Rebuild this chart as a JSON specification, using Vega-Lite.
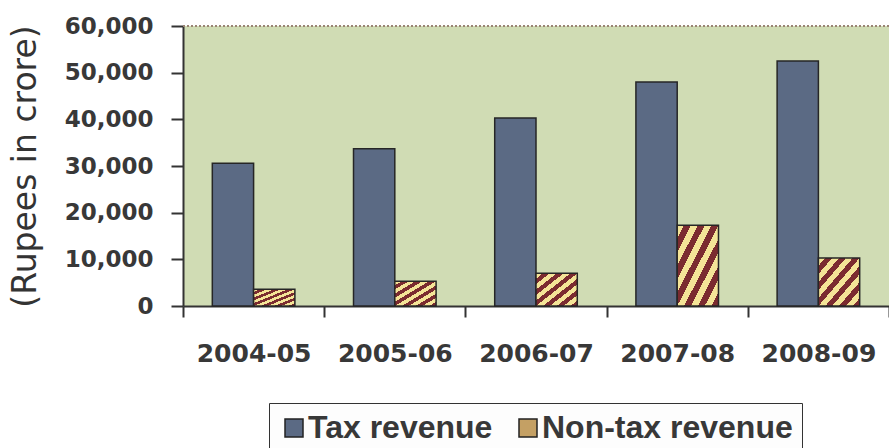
{
  "$schema": "https://vega.github.io/schema/vega-lite/v6.json",
  "width": 706,
  "height": 280,
  "autosize": {"type": "none"},
  "padding": {"left": 183, "top": 26, "right": 0, "bottom": 142},
  "background": "white",
  "config": {
    "view": {"fill": "#d0dcb4", "stroke": null},
    "axis": {"labelColor": "#383838", "domainColor": "#333333", "tickColor": "#333333", "domainWidth": 2, "tickWidth": 2, "grid": false}
  },
  "data": {
    "values": [
      {"year": "2004-05", "series": "Tax revenue", "value": 30600},
      {"year": "2004-05", "series": "Non-tax revenue", "value": 3600},
      {"year": "2005-06", "series": "Tax revenue", "value": 33700},
      {"year": "2005-06", "series": "Non-tax revenue", "value": 5300},
      {"year": "2006-07", "series": "Tax revenue", "value": 40300},
      {"year": "2006-07", "series": "Non-tax revenue", "value": 7000},
      {"year": "2007-08", "series": "Tax revenue", "value": 48000},
      {"year": "2007-08", "series": "Non-tax revenue", "value": 17300},
      {"year": "2008-09", "series": "Tax revenue", "value": 52500},
      {"year": "2008-09", "series": "Non-tax revenue", "value": 10300}
    ]
  },
  "layer": [
    {
      "mark": {"type": "bar", "stroke": "#262626", "strokeWidth": 1.5},
      "encoding": {
        "x": {
          "field": "year", "type": "nominal", "sort": null,
          "scale": {"paddingInner": 0, "paddingOuter": 0},
          "axis": {"title": null, "labelAngle": 0, "tickBand": "extent", "tickSize": 11, "labelPadding": 24, "labelFont": "DejaVu Sans", "labelFontWeight": "bold", "labelFontSize": 25}
        },
        "xOffset": {
          "field": "series", "type": "nominal", "sort": ["Tax revenue", "Non-tax revenue"],
          "scale": {"paddingInner": 0, "paddingOuter": 0.71}
        },
        "y": {
          "field": "value", "type": "quantitative",
          "scale": {"domain": [0, 60000], "nice": false},
          "axis": {"values": [0, 10000, 20000, 30000, 40000, 50000, 60000], "format": ",d", "tickSize": 12, "labelPadding": 18, "labelFont": "DejaVu Sans", "labelFontWeight": "bold", "labelFontSize": 23, "title": "(Rupees in crore)", "titleFont": "DejaVu Sans", "titleFontWeight": "normal", "titleFontSize": 33, "titleColor": "#333333", "titleX": -141, "titleY": 140, "titleAngle": -90, "titleBaseline": "bottom", "titleAlign": "center"}
        },
        "color": {
          "field": "series", "type": "nominal",
          "scale": {"domain": ["Tax revenue", "Non-tax revenue"], "range": ["#5b6a84", "#c4a064"]},
          "condition": {
            "test": "datum.series === 'Non-tax revenue'",
            "value": {
              "gradient": "linear", "x1": 0, "y1": 0, "x2": 1, "y2": 1,
              "stops": [
                {"offset": 0, "color": "#f4e497"}, {"offset": 0.0833, "color": "#f4e497"}, {"offset": 0.0833, "color": "#7b2b30"}, {"offset": 0.1667, "color": "#7b2b30"},
                {"offset": 0.1667, "color": "#f4e497"}, {"offset": 0.25, "color": "#f4e497"}, {"offset": 0.25, "color": "#7b2b30"}, {"offset": 0.3333, "color": "#7b2b30"},
                {"offset": 0.3333, "color": "#f4e497"}, {"offset": 0.4167, "color": "#f4e497"}, {"offset": 0.4167, "color": "#7b2b30"}, {"offset": 0.5, "color": "#7b2b30"},
                {"offset": 0.5, "color": "#f4e497"}, {"offset": 0.5833, "color": "#f4e497"}, {"offset": 0.5833, "color": "#7b2b30"}, {"offset": 0.6667, "color": "#7b2b30"},
                {"offset": 0.6667, "color": "#f4e497"}, {"offset": 0.75, "color": "#f4e497"}, {"offset": 0.75, "color": "#7b2b30"}, {"offset": 0.8333, "color": "#7b2b30"},
                {"offset": 0.8333, "color": "#f4e497"}, {"offset": 0.9167, "color": "#f4e497"}, {"offset": 0.9167, "color": "#7b2b30"}, {"offset": 1, "color": "#7b2b30"}
              ]
            }
          },
          "legend": {
            "orient": "none", "legendX": 86, "legendY": 377, "direction": "horizontal", "title": null,
            "symbolType": "square", "symbolSize": 324, "symbolStrokeColor": "#222222", "symbolStrokeWidth": 1.5, "symbolOpacity": 1,
            "labelFont": "Liberation Sans", "labelFontWeight": "bold", "labelFontSize": 32, "labelColor": "#383838", "labelLimit": 400, "labelOffset": -2,
            "columnPadding": 19, "padding": 9, "strokeColor": "#333333", "fillColor": "#fdfdfd"
          }
        }
      }
    },
    {
      "mark": {"type": "rule", "color": "#9a8474", "strokeWidth": 1.5, "strokeDash": [2, 2]},
      "encoding": {"y": {"datum": 60000}}
    }
  ]
}
